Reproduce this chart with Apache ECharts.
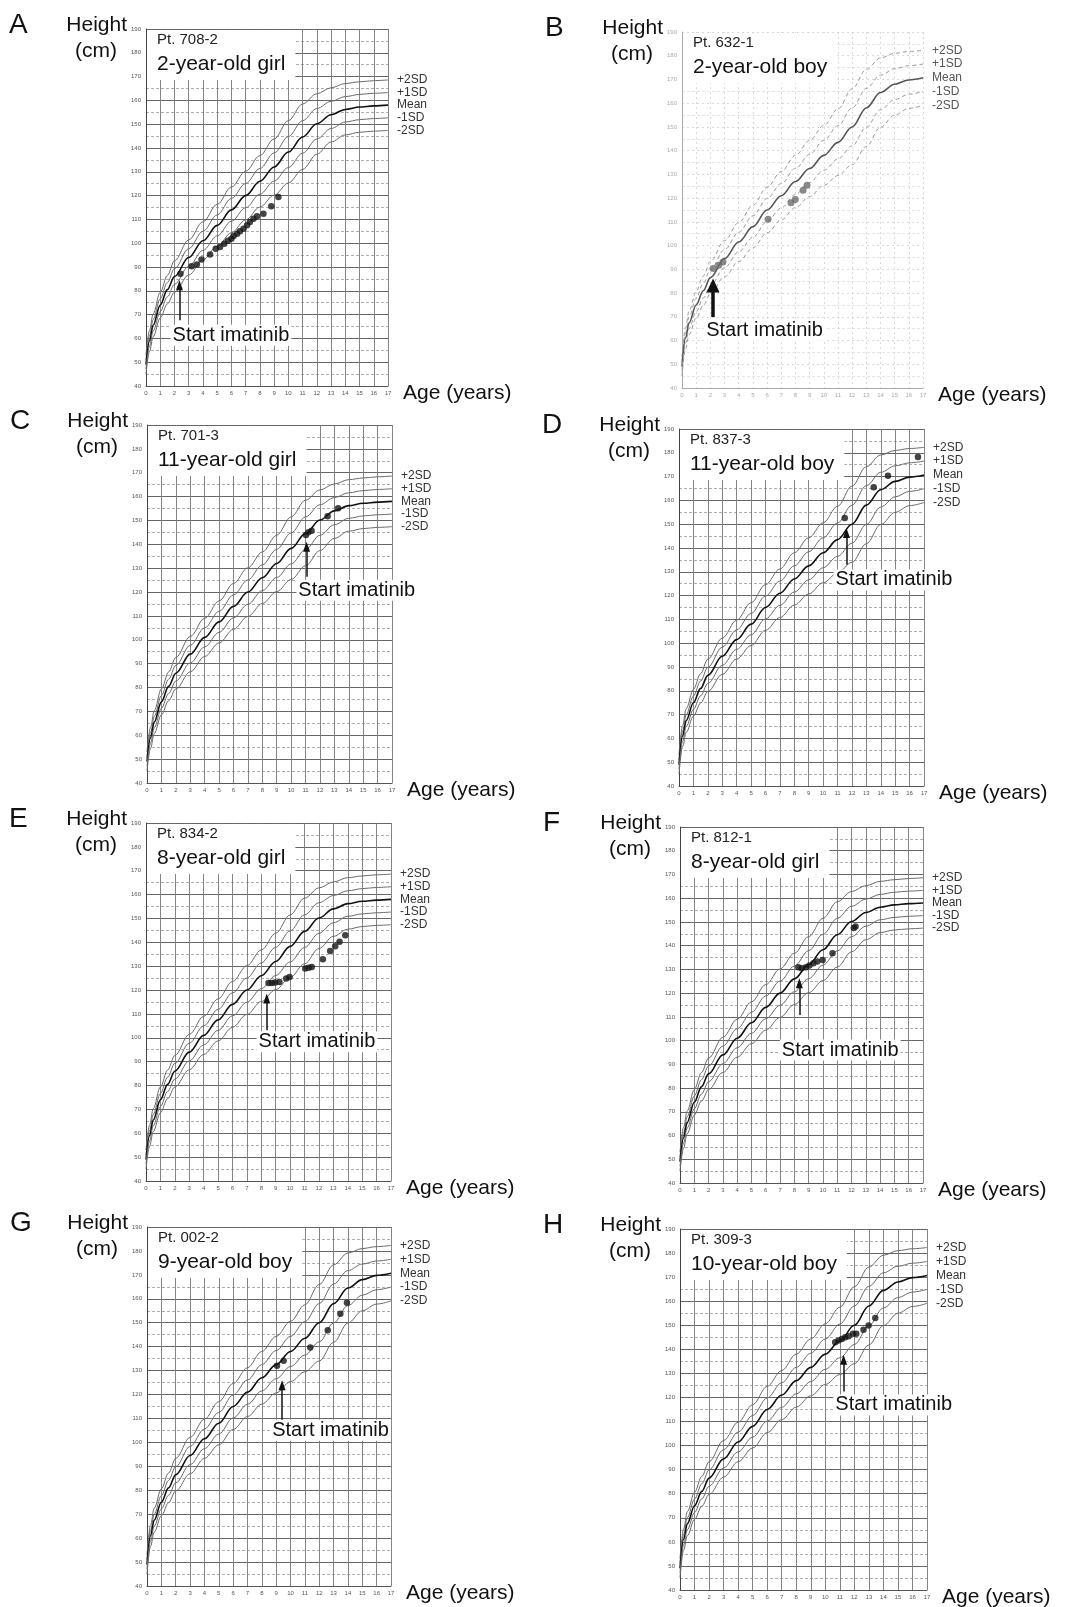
<!DOCTYPE html>
<html><head><meta charset="utf-8">
<script src="https://cdn.jsdelivr.net/npm/echarts/dist/echarts.min.js"></script>
<style>html,body{margin:0;padding:0;background:#fff}#c{width:1065px;height:1607px}</style>
</head><body><div id="c"></div>
<script>
// ---- reference growth curves ----
const refAges   = [0,0.25,0.5,1,1.5,2,3,4,5,6,7,8,9,10,11,12,13,14,15,16,17];
const girlPlus2 = [53,63.4,70.3,79.4,86.5,92.6,101.4,109,116.3,123.6,130.2,136.8,143.8,151.5,158.5,162.8,165.3,167.1,167.8,168.3,168.6];
const girlPlus1 = [51,61.2,67.9,76.7,83.5,89.3,97.7,105,111.9,118.8,125.1,131.4,137.9,144.8,151.5,156.6,159.6,161.6,162.5,163,163.3];
const girlMean  = [49,59,65.5,74,80.5,86,94,101,107.5,114,120,126,132,138.3,144.6,150.2,154,156.2,157.2,157.7,158];
const girlMinus1= [47,56.8,63.1,71.3,77.5,82.7,90.3,97,103.1,109.2,114.9,120.6,126.1,131.8,137.8,143.8,148.2,150.9,151.9,152.4,152.7];
const girlMinus2= [45,54.6,60.7,68.6,74.5,79.4,86.6,93,98.7,104.4,109.8,115.2,120.2,125.3,131,137.4,142.5,145.5,146.6,147.1,147.4];
const boyPlus2  = [53,65.4,72.5,80.6,87.2,93.3,102.1,109.7,117,124.6,131.2,138,144.3,150.6,157.5,166,174.2,179.1,181,181.8,182.3];
const boyPlus1  = [51,63.2,70,77.8,84.1,89.9,98.3,105.6,112.5,119.8,126.1,132.5,138.4,144.3,150.5,158,166.2,171.8,174.5,175.8,176.5];
const boyMean   = [49,61,67.5,75,81,86.5,94.5,101.5,108,115,121,127,132.5,138,143.5,150,158,164.5,168,169.8,170.7];
const boyMinus1 = [47,58.8,65,72.2,77.9,83.1,90.7,97.4,103.5,110.2,115.9,121.5,126.6,131.7,136.5,142,149.9,157.2,161.5,163.8,164.9];
const boyMinus2 = [45,56.6,62.5,69.4,74.8,79.7,86.9,93.3,99,105.4,110.8,116,120.7,125.4,129.5,134,141.8,149.9,155,157.8,159.1];
const curveNames = ['+2SD','+1SD','Mean','-1SD','-2SD'];

// ---- patient measurements ----
const ageA = [2.42,3.2,3.57,3.9,4.5,4.9,5.2,5.5,5.75,6.0,6.15,6.4,6.6,6.85,7.1,7.3,7.55,7.8,8.25,8.8,9.3];
const heightA = [87.2,90.3,91,93.2,95.3,97.7,98.4,99.8,101,101.9,103,104,105,106.1,107.5,108.9,110.3,111.3,112.4,115.5,119.4];
const ageB = [2.19,2.59,2.89,6.07,7.69,7.99,8.54,8.82];
const heightB = [90.3,91.7,93.1,111.1,118.1,119.4,123.3,125.4];
const ageC = [11.03,11.2,11.42,12.53,13.26];
const heightC = [143.9,145.1,145.7,151.8,155.1];
const ageD = [11.5,13.51,14.5,16.58];
const heightD = [152.6,165.5,170.4,178.2];
const ageE = [8.5,8.73,8.96,9.26,9.73,9.96,11.05,11.28,11.5,12.27,12.78,13.13,13.43,13.83];
const heightE = [123.0,123.0,123.2,123.4,124.8,125.5,129.0,129.3,129.7,132.9,136.4,138.4,140.2,143.0];
const ageF = [8.28,8.51,8.81,9.05,9.33,9.6,9.98,10.67,12.16,12.28];
const heightF = [130.9,130.5,130.9,131.6,132.6,133.3,134.0,136.8,147.4,148.1];
const ageG = [9.06,9.52,11.38,12.59,13.47,13.93];
const heightG = [132.0,134.1,139.6,146.9,153.8,158.4];
const ageH = [10.68,10.91,11.14,11.37,11.6,11.9,12.13,12.63,12.98,13.44];
const heightH = [142.9,143.7,144.3,145.0,145.4,146.5,146.5,148.1,149.9,153.0];

// ---- panel texts ----
const panelLetters = ['A','B','C','D','E','F','G','H'];
const patientIds = ['Pt. 708-2','Pt. 632-1','Pt. 701-3','Pt. 837-3','Pt. 834-2','Pt. 812-1','Pt. 002-2','Pt. 309-3'];
const patientTitles = ['2-year-old girl','2-year-old boy','11-year-old girl','11-year-old boy','8-year-old girl','8-year-old girl','9-year-old boy','10-year-old boy'];
const patientSex = ['girl','boy','girl','boy','girl','girl','boy','boy'];

// ---- "Start imatinib" annotation (data coordinates) ----
const startArrowAge = [2.35,2.19,11.07,11.62,8.38,8.35,9.41,11.26];
const arrowTail = [67.6,69.9,126.4,133.0,103.2,110.8,109.3,122.5];
const arrowHead = [84.4,86.1,141.1,148.4,118.6,126.3,126.0,137.7];
const labelAge = [1.69,1.53,10.33,10.69,7.64,6.95,8.55,10.52];
const labelHeight = [61.3,64.3,120.8,126.6,98.3,96.0,105.1,116.9];

// ---- layout (pixels) ----
const gridBoxes = [
  {left:146,top:29,width:242,height:357},
  {left:682,top:32,width:241,height:356},
  {left:147,top:425,width:245,height:358},
  {left:679,top:429,width:245,height:357},
  {left:146,top:823,width:245,height:358},
  {left:680,top:827,width:243,height:356},
  {left:147,top:1227,width:244,height:359},
  {left:680,top:1229,width:247,height:361}
];
const faint = [false,true,false,false,false,false,false,false];

const patientAges = [ageA,ageB,ageC,ageD,ageE,ageF,ageG,ageH];
const patientHeights = [heightA,heightB,heightC,heightD,heightE,heightF,heightG,heightH];
const curves = {
  girl:[girlPlus2,girlPlus1,girlMean,girlMinus1,girlMinus2],
  boy:[boyPlus2,boyPlus1,boyMean,boyMinus1,boyMinus2]
};

const FONT = '"Liberation Sans", Arial, Helvetica, sans-serif';
const meas = document.createElement('canvas').getContext('2d');
function textW(t, size){ meas.font = size + 'px ' + FONT; return meas.measureText(t).width; }

const grids=[], xAxes=[], yAxes=[], series=[], graphics=[];
gridBoxes.forEach((g,i)=>{
  const f = faint[i];
  grids.push({left:g.left, top:g.top, width:g.width, height:g.height, containLabel:false});
  xAxes.push({
    type:'value', gridIndex:i, min:0, max:17, interval:1,
    axisLine:{show:true, lineStyle:{color:f?'#aaa':'#555', width:1}},
    axisTick:{show:false},
    axisLabel:{fontSize:6, color:f?'#aaa':'#555', margin:4, fontFamily:FONT},
    splitLine:{show:true, lineStyle:{color:f?'#cfcfcf':'#777', width:f?0.8:0.9, type:f?[2,3]:'solid'}}
  });
  yAxes.push({
    type:'value', gridIndex:i, min:40, max:190, interval:10,
    axisLine:{show:true, lineStyle:{color:f?'#aaa':'#444', width:1}},
    axisTick:{show:false},
    axisLabel:{fontSize:6, color:f?'#aaa':'#555', margin:5, fontFamily:FONT},
    splitLine:{show:true, lineStyle:{color:f?'#cfcfcf':'#666', width:f?0.8:1.1, type:f?[2,3]:'solid'}},
    minorTick:{show:false, splitNumber:2},
    minorSplitLine:{show:true, lineStyle:{color:f?'#dedede':'#999', width:0.8, type:[3,2]}}
  });
  const cs = curves[patientSex[i]];
  cs.forEach((arr,j)=>{
    const isMean = j===2;
    series.push({
      type:'line', xAxisIndex:i, yAxisIndex:i, silent:true,
      data: refAges.map((a,k)=>[a, arr[k]]),
      smooth:0.35, smoothMonotone:'x', symbol:'none', z:3,
      lineStyle:{color: isMean ? (f?'#555':'#111') : (f?'#9a9a9a':'#6a6a6a'),
                 width: isMean ? 1.6 : 1, type: (f && !isMean) ? [4,3] : 'solid'},
      endLabel:{show:true, formatter:curveNames[j], fontSize:12, fontFamily:FONT,
                color: f?'#555':'#333', distance:9}
    });
  });
  series.push({
    type:'scatter', xAxisIndex:i, yAxisIndex:i, silent:true, z:5,
    data: patientAges[i].map((a,k)=>[a, patientHeights[i][k]]),
    symbol:'circle', symbolSize: f?7:6.5,
    itemStyle:{color: f?'#6b6b6b':'#151515'},
    markLine:{
      silent:true, animation:false, symbol:['none','none'],
      lineStyle:{color:'#111', width: f?3.5:1.5, type:'solid'},
      label:{show:false},
      data:[[{coord:[startArrowAge[i], arrowTail[i]]},{coord:[startArrowAge[i], arrowHead[i]-2]}]]
    },
    markPoint:{
      silent:true, animation:false,
      data:[
        {coord:[labelAge[i], labelHeight[i]], symbol:'circle', symbolSize:1,
         itemStyle:{color:'rgba(0,0,0,0)'},
         label:{show:true, position:'right', distance:0, formatter:'Start imatinib',
                fontSize:20, fontFamily:FONT, color:'#111', backgroundColor:'#fff', padding:[1,2,0,2]}},
        {coord:[startArrowAge[i], arrowHead[i]], symbol:'triangle',
         symbolSize: f?[13,14]:[7,10], symbolOffset:[0,'50%'],
         itemStyle:{color:'#111'}, label:{show:false}}
      ]
    }
  });

  // texts & decorations
  const tw = Math.max(textW(patientTitles[i],21), textW(patientIds[i],15));
  graphics.push({type:'rect', z:1, shape:{x:g.left+1, y:g.top+1, width:tw+20, height:50}, style:{fill:'#fff'}});
  graphics.push({type:'text', z:10, x:g.left+11, y:g.top+11, style:{text:patientIds[i], font:'15px '+FONT, fill:'#222', textVerticalAlign:'middle'}});
  graphics.push({type:'text', z:10, x:g.left+11, y:g.top+35, style:{text:patientTitles[i], font:'21px '+FONT, fill:'#111', textVerticalAlign:'middle'}});
  graphics.push({type:'text', z:10, x:g.left-137, y:g.top-4, style:{text:panelLetters[i], font:'28px '+FONT, fill:'#111', textVerticalAlign:'middle'}});
  graphics.push({type:'text', z:10, x:g.left-19, y:g.top-4, style:{text:'Height', font:'21px '+FONT, fill:'#111', textAlign:'right', textVerticalAlign:'middle'}});
  graphics.push({type:'text', z:10, x:g.left-50, y:g.top+22, style:{text:'(cm)', font:'21px '+FONT, fill:'#111', textAlign:'center', textVerticalAlign:'middle'}});
  graphics.push({type:'text', z:10, x:g.left+g.width+15, y:g.top+g.height+7, style:{text:'Age (years)', font:'21px '+FONT, fill:'#111', textVerticalAlign:'middle'}});
});

const chart = echarts.init(document.getElementById('c'), null, {renderer:'canvas'});
chart.setOption({
  animation:false,
  backgroundColor:'#fff',
  grid:grids, xAxis:xAxes, yAxis:yAxes, series:series, graphic:graphics
});
</script>
</body></html>
